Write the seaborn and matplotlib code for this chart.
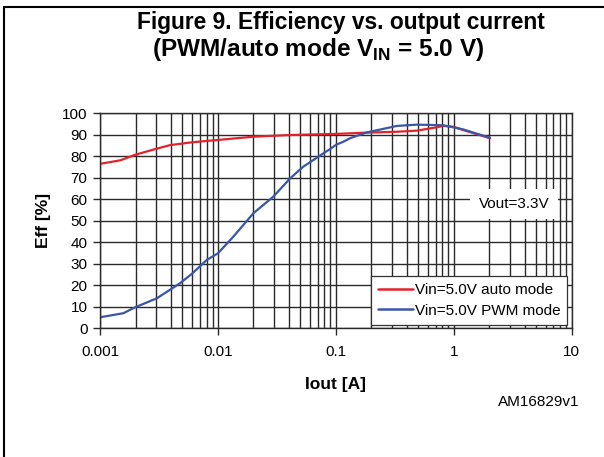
import numpy as np
import pandas as pd
import matplotlib
matplotlib.use('Agg')
import matplotlib.pyplot as plt
import seaborn as sns
from matplotlib.ticker import LogLocator, FixedLocator, FuncFormatter, NullFormatter
from matplotlib.lines import Line2D

# Data
auto_iout = [0.001, 0.0015, 0.00198, 0.003, 0.00393, 0.006, 0.01, 0.02, 0.041, 0.1,
             0.183, 0.329, 0.485, 0.718, 0.817, 1.0, 1.2, 1.5, 2.03]
auto_eff = [76.4, 78.1, 80.6, 83.4, 85.1, 86.4, 87.5, 89.0, 89.8, 90.3,
            90.9, 91.3, 91.8, 93.4, 94.0, 93.6, 92.1, 90.5, 88.3]

pwm_iout = [0.001, 0.00158, 0.00198, 0.00303, 0.00477, 0.00599, 0.00804, 0.01, 0.0135,
            0.02, 0.0295, 0.041, 0.053, 0.0784, 0.089, 0.1, 0.116, 0.132, 0.183,
            0.329, 0.485, 0.817, 1.2, 2.03]
pwm_eff = [5.2, 7.1, 9.8, 14.0, 21.0, 25.3, 31.8, 34.9, 42.6,
           53.5, 61.2, 69.7, 75.1, 81.3, 83.2, 85.2, 86.7, 88.3, 91.0,
           94.0, 94.6, 94.3, 92.4, 88.5]

series_names = ['Vin=5.0V auto mode', 'Vin=5.0V PWM mode']
series_colors = ['#e3232b', '#3a56a6']
x_ticks = [0.001, 0.01, 0.1, 1, 10]
y_ticks = list(range(0, 101, 10))

df = pd.concat([
    pd.DataFrame({'Iout': auto_iout, 'Eff': auto_eff, 'mode': series_names[0]}),
    pd.DataFrame({'Iout': pwm_iout, 'Eff': pwm_eff, 'mode': series_names[1]}),
])

sns.set_style('white')
plt.rcParams['font.family'] = ['Liberation Sans', 'DejaVu Sans']
plt.rcParams['text.color'] = 'black'
plt.rcParams['axes.labelcolor'] = 'black'
plt.rcParams['xtick.color'] = 'black'
plt.rcParams['ytick.color'] = 'black'
plt.rcParams['mathtext.fontset'] = 'custom'
plt.rcParams['mathtext.rm'] = 'Liberation Sans'
plt.rcParams['mathtext.bf'] = 'Liberation Sans:bold'

fig = plt.figure(figsize=(6.04, 4.57), dpi=100)
ax = fig.add_axes([0.1656, 0.2812, 0.7809, 0.4715])

sns.lineplot(data=df, x='Iout', y='Eff', hue='mode', palette=series_colors,
             hue_order=series_names, linewidth=1.6, ax=ax, legend=False, sort=False)

ax.set_xscale('log')
ax.set_xlim(0.001, 10)
ax.set_ylim(0, 100)
ax.xaxis.set_major_locator(FixedLocator(x_ticks))
ax.xaxis.set_major_formatter(FuncFormatter(lambda v, p: '%g' % v))
ax.xaxis.set_minor_locator(LogLocator(base=10, subs=np.arange(2, 10)))
ax.xaxis.set_minor_formatter(NullFormatter())
ax.set_yticks(y_ticks)

ax.grid(which='both', axis='both', color='#2a2a2a', linewidth=1.0)
ax.set_axisbelow(True)
for s in ax.spines.values():
    s.set_color('#2a2a2a')
    s.set_linewidth(1.0)
ax.tick_params(which='major', direction='out', length=5, width=1, color='#2a2a2a',
               labelsize=11, left=True, bottom=True)
ax.tick_params(axis='x', which='major', pad=7)
ax.tick_params(axis='y', which='major', pad=4)
ax.tick_params(which='minor', length=0)

ax.set_xlabel('Iout [A]', fontsize=12.5, fontweight='bold', labelpad=13)
ax.set_ylabel('Eff [%]', fontsize=12.5, fontweight='bold', labelpad=8)

handles = [Line2D([], [], color=c, lw=1.8) for c in series_colors]
leg = ax.legend(handles, series_names, loc='lower right', bbox_to_anchor=(0.991, 0.018),
                borderaxespad=0, fontsize=11, handlelength=2.3, handletextpad=0.15,
                fancybox=False, framealpha=1, edgecolor='#333333', labelspacing=0.45,
                borderpad=0.45)
leg.get_frame().set_linewidth(0.9)

ax.text(0.878, 0.578, 'Vout=3.3V', transform=ax.transAxes, ha='center', va='center',
        fontsize=11, bbox=dict(facecolor='white', edgecolor='none', pad=6))

fig.text(0.5646, 0.9365, 'Figure 9. Efficiency vs. output current', ha='center', va='baseline',
         fontsize=16.4, fontweight='bold')
fig.text(0.5265, 0.8775, r'(PWM/auto mode V$_\mathbf{IN}$ = 5.0 V)', ha='center', va='baseline',
         fontsize=17.6, fontweight='bold')
fig.text(0.96, 0.12, 'AM16829v1', ha='right', va='center', fontsize=11)

# page frame (top and left border)
fig.add_artist(Line2D([0.007, 1.0], [0.985, 0.985], transform=fig.transFigure, color='black', lw=1.5))
fig.add_artist(Line2D([0.007, 0.007], [0.0, 0.985], transform=fig.transFigure, color='black', lw=1.5))

fig.savefig('out.png', dpi=100)
